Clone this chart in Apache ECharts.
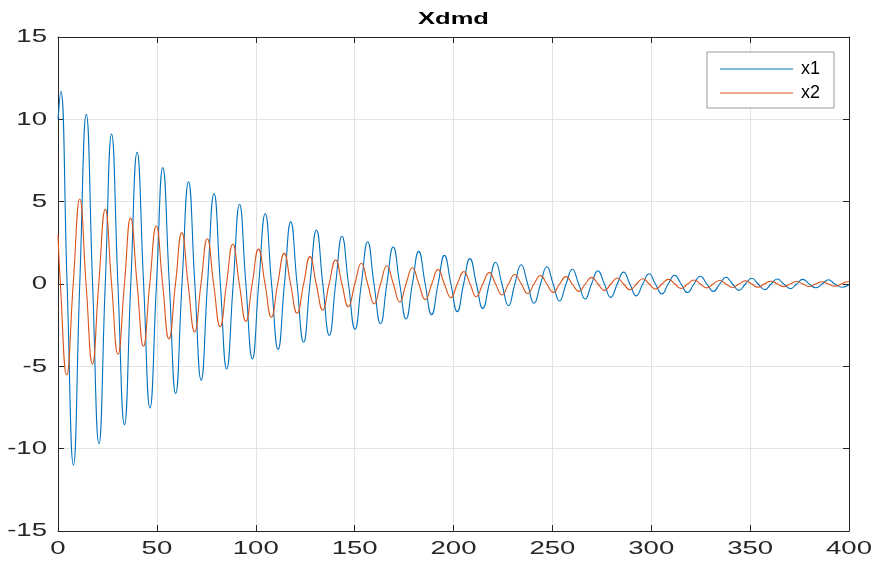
<!DOCTYPE html>
<html>
<head>
<meta charset="utf-8">
<style>
  html, body { margin: 0; padding: 0; background: #ffffff; }
  #chart { width: 873px; height: 563px; }
</style>
<script src="https://cdn.jsdelivr.net/npm/echarts@6/dist/echarts.min.js"></script>
</head>
<body>
<div id="chart"></div>
<script>
// Node times (extrema and zero crossings) and values for each signal
const x1T = [0, 1.4, 4.6, 7.8, 11.0, 14.3, 17.5, 20.7, 23.9, 27.1, 30.3, 33.6, 36.8, 40.0, 43.3, 46.5, 49.8, 53.0, 56.3, 59.5,
  62.7, 66.0, 69.2, 72.4, 75.6, 78.9, 82.1, 85.3, 88.6, 91.8, 95.0, 98.3, 101.5, 104.8, 108.0, 111.3, 114.5, 117.7, 120.9, 124.2,
  127.4, 130.7, 133.9, 137.2, 140.4, 143.6, 146.9, 150.2, 153.4, 156.6, 159.8, 163.1, 166.3, 169.5, 172.8, 176.0, 179.2, 182.4, 185.7, 188.9,
  192.2, 195.4, 198.7, 201.9, 205.1, 208.3, 211.6, 214.8, 218.1, 221.3, 224.5, 227.8, 231.0, 234.2, 237.5, 240.7, 244.0, 247.2, 250.4, 253.6,
  256.9, 260.1, 263.3, 266.6, 269.8, 273.0, 276.3, 279.5, 282.8, 286.0, 289.2, 292.4, 295.7, 298.9, 302.1, 305.4, 308.6, 311.8, 315.1, 318.3,
  321.6, 324.8, 328.1, 331.4, 334.6, 337.8, 341.1, 344.4, 347.6, 350.8, 354.0, 357.4, 360.6, 363.7, 367.0, 370.4, 373.5, 376.6, 379.9, 383.2,
  386.4, 389.6, 392.8, 396.5, 400];
const x1V = [10.0, 11.7, 0, -11.0, 0, 10.3, 0, -9.7, 0, 9.1, 0, -8.54, 0, 8.0, 0, -7.53, 0, 7.07, 0, -6.66,
  0, 6.2, 0, -5.85, 0, 5.5, 0, -5.16, 0, 4.84, 0, -4.55, 0, 4.27, 0, -3.97, 0, 3.77, 0, -3.54,
  0, 3.28, 0, -3.12, 0, 2.9, 0, -2.75, 0, 2.57, 0, -2.41, 0, 2.25, 0, -2.13, 0, 1.98, 0, -1.86,
  0, 1.74, 0, -1.68, 0, 1.54, 0, -1.48, 0, 1.32, 0, -1.32, 0, 1.17, 0, -1.17, 0, 1.05, 0, -1.03,
  0, 0.9, 0, -0.91, 0, 0.8, 0, -0.81, 0, 0.72, 0, -0.72, 0, 0.62, 0, -0.6, 0, 0.53, 0, -0.52,
  0, 0.47, 0, -0.45, 0, 0.41, 0, -0.39, 0, 0.35, 0, -0.34, 0, 0.3, 0, -0.28, 0, 0.28, 0, -0.23,
  0, 0.26, 0, -0.2, -0.05];

const x2T = [0, 1.2, 4.4, 7.7, 11.0, 14.2, 17.4, 20.6, 23.9, 27.1, 30.3, 33.6, 36.7, 40.0, 43.2, 46.4, 49.7, 52.9, 56.1, 59.4,
  62.6, 65.8, 69.1, 72.3, 75.5, 78.7, 82.0, 85.2, 88.4, 91.7, 95.0, 98.2, 101.4, 104.7, 107.9, 111.1, 114.4, 117.6, 120.9, 124.2,
  127.4, 130.6, 133.9, 137.1, 140.4, 143.6, 146.8, 150.1, 153.4, 156.6, 159.9, 163.1, 166.3, 169.6, 172.8, 176.0, 179.2, 182.5, 185.7, 189.0,
  192.2, 195.4, 198.7, 201.9, 205.2, 208.4, 211.5, 214.8, 218.1, 221.3, 224.5, 227.8, 231.0, 234.3, 237.5, 240.7, 244.0, 247.2, 250.4, 253.7,
  256.9, 260.1, 263.4, 266.6, 269.9, 273.1, 276.3, 279.6, 282.8, 286.0, 289.3, 292.5, 295.8, 299.0, 302.2, 305.4, 308.7, 311.9, 315.2, 318.4,
  321.7, 324.9, 328.1, 331.3, 334.6, 337.8, 341.1, 344.3, 347.6, 350.8, 354.0, 357.2, 360.5, 363.8, 367.0, 370.2, 373.5, 376.7, 379.9, 383.1,
  386.4, 389.6, 392.9, 396.1, 399.4, 400];
const x2V = [3.0, 0, -5.53, 0, 5.16, 0, -4.86, 0, 4.53, 0, -4.27, 0, 4.0, 0, -3.78, 0, 3.52, 0, -3.34, 0,
  3.12, 0, -2.91, 0, 2.75, 0, -2.59, 0, 2.41, 0, -2.27, 0, 2.12, 0, -2.02, 0, 1.86, 0, -1.78, 0,
  1.66, 0, -1.58, 0, 1.46, 0, -1.38, 0, 1.26, 0, -1.21, 0, 1.11, 0, -1.09, 0, 0.99, 0, -0.95, 0,
  0.89, 0, -0.83, 0, 0.75, 0, -0.77, 0, 0.69, 0, -0.66, 0, 0.58, 0, -0.58, 0, 0.52, 0, -0.51, 0,
  0.45, 0, -0.45, 0, 0.4, 0, -0.4, 0, 0.36, 0, -0.35, 0, 0.32, 0, -0.31, 0, 0.28, 0, -0.27, 0,
  0.24, 0, -0.24, 0, 0.21, 0, -0.21, 0, 0.19, 0, -0.19, 0, 0.17, 0, -0.17, 0, 0.15, 0, -0.15, 0,
  0.14, 0, -0.13, 0, 0.14, 0.14];

const xTicks = [0, 50, 100, 150, 200, 250, 300, 350, 400];
const yTicks = [-15, -10, -5, 0, 5, 10, 15];

const seriesNames = ['x1', 'x2'];
const seriesColors = ['#0072BD', '#D95319'];
const titleText = 'Xdmd';

const pairs = (t, v) => t.map((ti, i) => [ti, v[i]]);

const FONT = '"Liberation Sans", Arial, Helvetica, sans-serif';
const INK = '#262626';
const TEXT_STRETCH = 1.45;   // wide, horizontally stretched lettering
const GRID = { left: 58, right: 24, top: 37, bottom: 32 };

const chart = echarts.init(document.getElementById('chart'), null, { renderer: 'canvas' });

const frameAxisX = (pos, main) => ({
  type: 'value', position: pos,
  min: xTicks[0], max: xTicks[xTicks.length - 1], interval: 50,
  axisLine: { show: true, onZero: false, lineStyle: { color: INK, width: 1 } },
  axisTick: { show: true, inside: true, length: 6, lineStyle: { color: INK } },
  axisLabel: { show: false },
  splitLine: { show: main, lineStyle: { color: '#e3e3e3', width: 1 } }
});
const frameAxisY = (pos, main) => ({
  type: 'value', position: pos,
  min: yTicks[0], max: yTicks[yTicks.length - 1], interval: 5,
  axisLine: { show: true, onZero: false, lineStyle: { color: INK, width: 1 } },
  axisTick: { show: true, inside: true, length: 6, lineStyle: { color: INK } },
  axisLabel: { show: false },
  splitLine: { show: main, lineStyle: { color: '#e3e3e3', width: 1 } }
});

chart.setOption({
  animation: false,
  backgroundColor: '#ffffff',
  grid: Object.assign({ containLabel: false }, GRID),
  xAxis: [frameAxisX('bottom', true), frameAxisX('top', false)],
  yAxis: [frameAxisY('left', true), frameAxisY('right', false)],
  legend: {
    orient: 'vertical',
    right: 39, top: 52,
    padding: [8, 14, 6, 13],
    icon: 'rect',
    itemWidth: 73, itemHeight: 1, itemGap: 6,
    backgroundColor: '#ffffff',
    borderColor: '#9a9a9a', borderWidth: 1,
    textStyle: { fontFamily: FONT, fontSize: 18, color: '#000000', padding: [0, 0, 0, 3], lineHeight: 16 },
    data: seriesNames
  },
  series: [
    {
      name: seriesNames[0], type: 'line', xAxisIndex: 0, yAxisIndex: 0,
      data: pairs(x1T, x1V), smooth: 0.5, symbol: 'none',
      lineStyle: { color: seriesColors[0], width: 1.1 }, itemStyle: { color: seriesColors[0] }
    },
    {
      name: seriesNames[1], type: 'line', xAxisIndex: 0, yAxisIndex: 0,
      data: pairs(x2T, x2V), smooth: 0.5, symbol: 'none',
      lineStyle: { color: seriesColors[1], width: 1.1 }, itemStyle: { color: seriesColors[1] }
    }
  ]
});

// Title and tick labels drawn as stretched text, placed from the axis scales
const labels = [];
labels.push({
  type: 'text', silent: true,
  x: (GRID.left + 873 - GRID.right) / 2, y: 19, scaleX: 1.5,
  style: {
    text: titleText, fill: '#000000', fontFamily: FONT, fontSize: 17, fontWeight: 'bold',
    textAlign: 'center', textVerticalAlign: 'middle', verticalAlign: 'middle'
  }
});
const xLabelTop = 563 - GRID.bottom + 8;
xTicks.forEach(v => {
  const px = chart.convertToPixel({ xAxisIndex: 0 }, v);
  labels.push({
    type: 'text', silent: true, x: px, y: xLabelTop, scaleX: TEXT_STRETCH,
    style: {
      text: String(v), fill: INK, fontFamily: FONT, fontSize: 19,
      textAlign: 'center', textVerticalAlign: 'top', verticalAlign: 'top'
    }
  });
});
yTicks.forEach(v => {
  const py = chart.convertToPixel({ yAxisIndex: 0 }, v);
  labels.push({
    type: 'text', silent: true, x: GRID.left - 11, y: py, scaleX: TEXT_STRETCH,
    style: {
      text: String(v), fill: INK, fontFamily: FONT, fontSize: 19,
      textAlign: 'right', textVerticalAlign: 'middle', verticalAlign: 'middle'
    }
  });
});
chart.setOption({ graphic: { elements: labels } });
</script>
</body>
</html>
